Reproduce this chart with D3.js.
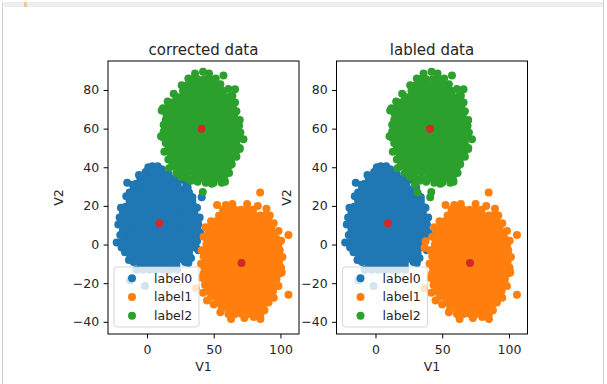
<!DOCTYPE html>
<html>
<head>
<meta charset="utf-8">
<script src="https://cdn.jsdelivr.net/npm/d3@7"></script>
<style>
  body { margin: 0; background: #fff; }
  svg { display: block; }
  text { font-family: "DejaVu Sans", sans-serif; fill: #262626; }
</style>
</head>
<body>
<svg id="chart"></svg>
<script>
// chart values
const titles = ['corrected data', 'labled data'];
const legendLabels = ['label0', 'label1', 'label2'];
const colors = ['#1f77b4', '#ff7f0e', '#2ca02c'];
const centerColor = '#d62728';
const xTicks = [0, 50, 100];
const yTicks = [-40, -20, 0, 20, 40, 60, 80];

// dense blobs, one row per V2 value: [V2, [V1, ...]]
const label0Rows = [
  [40.5, [4, 8]],
  [37.5, [-1, 3, 7.5, 11]],
  [34.5, [-5, -0.5, 4, 8.5, 13, 16]],
  [31.5, [-8, -3.5, 1, 5.5, 10, 14.5, 19, 23]],
  [28.5, [-10, -5.5, -1, 3.5, 8, 12.5, 17, 21.5, 26, 29]],
  [25.5, [-12, -7.5, -3, 1.5, 6, 10.5, 15, 19.5, 24, 28.5, 32]],
  [22.5, [-13, -9.5, -5, -0.5, 4, 8.5, 13, 17.5, 22, 26.5, 31, 34]],
  [19.5, [-16, -11.5, -7, -2.5, 2, 6.5, 11, 15.5, 20, 24.5, 29, 33, 35.5]],
  [16.5, [-18, -13.5, -9, -4.5, 0, 4.5, 9, 13.5, 18, 22.5, 27, 31.5, 35.5]],
  [13.5, [-18, -15.5, -11, -6.5, -2, 2.5, 7, 11.5, 16, 20.5, 25, 29.5, 34, 37]],
  [10.5, [-18.5, -13.5, -9, -4.5, 0, 4.5, 9, 13.5, 18, 22.5, 27, 31.5, 35.5, 38.5]],
  [7.5, [-18, -15.5, -11, -6.5, -2, 2.5, 7, 11.5, 16, 20.5, 25, 29.5, 34, 38]],
  [4.5, [-17, -13.5, -9, -4.5, 0, 4.5, 9, 13.5, 18, 22.5, 27, 31.5, 35.5, 38]],
  [1.5, [-16, -11.5, -7, -2.5, 2, 6.5, 11, 15.5, 20, 24.5, 29, 33.5, 36]],
  [-1.5, [-15, -10.5, -6, -1.5, 3, 7.5, 12, 16.5, 21, 25.5, 30, 34]],
  [-4.5, [-13.5, -9, -4.5, 0, 4.5, 9, 13.5, 18, 22.5, 27, 31.5]],
  [-7.5, [-10, -5.5, -1, 3.5, 8, 12.5, 17, 21.5, 26, 29]],
  [-10.5, [-5, 0, 4.5, 9, 13.5, 18, 22]],
  [-13, [-8, -3, 2, 7, 12, 17, 22.5]]
];
const label0Extra = [
  [-22.7, 1], [-19, 1], [-21.5, 10.4], [-14.8, 32], [27, 33.5],
  [-12.7, -18.5], [-1.5, -21.4], [28.5, -9],
  [-13, 27], [-10.5, 31], [-6, 36], [1, 40], [11, 39], [16, 36.5], [21, 34.5],
  [30.5, 29.5], [34, 24.5], [37.5, 19], [39.5, 14], [40, 6], [38.5, -3], [33, -7],
  [31, -9.5], [-16.5, -4], [-19, -1.5], [-20, 5], [-20.5, 14], [-19.5, 19],
  [-15.5, 25], [-10, -9], [-13.5, -8]
];

const label1Rows = [
  [18, [57, 61.5, 66, 70.5, 75, 79.5]],
  [15, [54, 58, 62.5, 67, 71.5, 76, 80.5, 85, 88.5]],
  [12, [52, 56, 60.5, 65, 69.5, 74, 78.5, 83, 87.5, 91]],
  [9, [49, 53, 57.5, 62, 66.5, 71, 75.5, 80, 84.5, 89, 93]],
  [6, [46, 50.5, 55, 59.5, 64, 68.5, 73, 77.5, 82, 86.5, 91, 95]],
  [3, [45, 48.5, 53, 57.5, 62, 66.5, 71, 75.5, 80, 84.5, 89, 93.5, 97]],
  [0, [44.5, 49, 53.5, 58, 62.5, 67, 71.5, 76, 80.5, 85, 89.5, 94, 98.5]],
  [-3, [43, 46.5, 51, 55.5, 60, 64.5, 69, 73.5, 78, 82.5, 87, 91.5, 96, 99.5]],
  [-6, [42.5, 47, 51.5, 56, 60.5, 65, 69.5, 74, 78.5, 83, 87.5, 92, 96.5, 99.5]],
  [-9, [43, 45.5, 50, 54.5, 59, 63.5, 68, 72.5, 77, 81.5, 86, 90.5, 95, 99]],
  [-12, [43, 47.5, 52, 56.5, 61, 65.5, 70, 74.5, 79, 83.5, 88, 92.5, 97, 100.5]],
  [-15, [42.5, 46, 50.5, 55, 59.5, 64, 68.5, 73, 77.5, 82, 86.5, 91, 95.5, 99.5]],
  [-18, [43, 47.5, 52, 56.5, 61, 65.5, 70, 74.5, 79, 83.5, 88, 92.5, 97]],
  [-21, [43.5, 47, 51.5, 56, 60.5, 65, 69.5, 74, 78.5, 83, 87.5, 92, 96]],
  [-24, [46, 50.5, 55, 59.5, 64, 68.5, 73, 77.5, 82, 86.5, 91, 94.5]],
  [-27, [48, 52.5, 57, 61.5, 66, 70.5, 75, 79.5, 84, 88.5, 92]],
  [-30, [53, 57.5, 62, 66.5, 71, 75.5, 80, 84.5, 89]],
  [-33, [56, 60.5, 65, 69.5, 74, 78.5, 83, 87]],
  [-36, [61, 66, 71, 75.5, 80, 85]]
];
const label1Extra = [
  [84.8, 27], [106, 5], [106, -26], [52.5, 20.5], [36.5, -22.6], [85, -38.5],
  [48, 12], [44, 9], [42.5, 4], [41, -3], [40.5, -10], [41, -17], [42, -25],
  [45, -29], [50, -31], [55, -35], [63, -38.5], [73, -38], [80, -37.5], [88, -34],
  [91, -30], [95, -27.5], [98.5, -21.5], [101, -14.5], [101.5, -6.5], [100.5, 2],
  [98.5, 7], [95, 11], [92, 15], [89.5, 18.5], [83, 20], [75, 21], [64, 21], [59, 20.5]
];

const label2Rows = [
  [88.5, [36, 46.5]],
  [85.5, [34, 38, 43, 47]],
  [82.5, [30, 34.5, 39, 43.5, 48, 51]],
  [79.5, [27, 31, 35.5, 40, 44.5, 49, 53, 57]],
  [76.5, [22, 26.5, 31, 35.5, 40, 44.5, 49, 53.5, 58, 62]],
  [73.5, [19, 23.5, 28, 32.5, 37, 41.5, 46, 50.5, 55, 59.5, 63]],
  [70.5, [12, 16, 20.5, 25, 29.5, 34, 38.5, 43, 47.5, 52, 56.5, 61, 64.5]],
  [67.5, [14.5, 18, 22.5, 27, 31.5, 36, 40.5, 45, 49.5, 54, 58.5, 63, 65.5]],
  [64.5, [14, 17.5, 22, 26.5, 31, 35.5, 40, 44.5, 49, 53.5, 58, 62.5, 66]],
  [61.5, [13.5, 16, 20.5, 25, 29.5, 34, 38.5, 43, 47.5, 52, 56.5, 61, 65.5, 69]],
  [58.5, [12.5, 17, 21.5, 26, 30.5, 35, 39.5, 44, 48.5, 53, 57.5, 62, 66]],
  [55.5, [12, 15.5, 20, 24.5, 29, 33.5, 38, 42.5, 47, 51.5, 56, 60.5, 65, 68]],
  [52.5, [14, 18, 22.5, 27, 31.5, 36, 40.5, 45, 49.5, 54, 58.5, 63, 67]],
  [49.5, [16, 20.5, 25, 29.5, 34, 38.5, 43, 47.5, 52, 56.5, 61, 65, 69.5]],
  [46.5, [18, 22.5, 27, 31.5, 36, 40.5, 45, 49.5, 54, 58.5, 63, 66.5]],
  [43.5, [18.5, 23, 27.5, 32, 36.5, 41, 45.5, 50, 54.5, 59, 63]],
  [40.5, [18.5, 22, 26.5, 31, 35.5, 40, 44.5, 49, 53.5, 58, 61.5]],
  [37.5, [26, 30, 34.5, 39, 43.5, 48, 52.5, 57, 60]],
  [34.5, [30, 35, 40, 45, 49.5, 54, 58]],
  [32, [44, 50, 56]]
];
const label2Extra = [
  [57.3, 87.5], [66, 80.4], [72.3, 54.5], [11, 69.4], [41.8, 27.2],
  [15.5, 74], [12.5, 62], [10.5, 56], [13, 48], [16, 44], [16.5, 39.5], [22, 37],
  [26, 35], [33, 33], [38, 32.5], [48.5, 31.5], [58.5, 32.5], [61.5, 37], [63.5, 41.5],
  [67, 45.5], [69.5, 50], [70, 58], [69.5, 64.5], [67, 69], [66, 73.5], [64, 77],
  [61, 80.5], [55, 83], [51.5, 86], [42, 89.5], [31, 86], [26, 82.5], [20, 78]
];

// points on the cluster borders whose label differs between the two panels
const borderPoints = [[31.5, 27], [29.5, 31], [41, 24.5], [37.5, 1.7], [36.8, -1.7]];
const borderCorrected = [0, 0, 0, 0, 0];
const borderLabeled = [2, 2, 2, 1, 1];

const centers = [[9.3, 11], [70.8, -9.5], [40.9, 59.9]];

// layout
const width = 607, height = 384;
const axTop = 61, axBottom = 334, axWidth = 191;
const panelLefts = [108, 336.5];
const fontSize = 12.5, markerR = 4;

const svg = d3.select('#chart').attr('width', width).attr('height', height);

// notebook cell frame
svg.append('rect').attr('x', 4).attr('y', 2).attr('width', 599).attr('height', 5).attr('fill', '#eeeeee');
svg.append('rect').attr('x', 24).attr('y', 2).attr('width', 3).attr('height', 5).attr('fill', '#f3c597');
svg.append('line').attr('x1', 2.5).attr('x2', 2.5).attr('y1', 2).attr('y2', height).attr('stroke', '#cfcfcf');
svg.append('line').attr('x1', 603.5).attr('x2', 603.5).attr('y1', 0).attr('y2', height).attr('stroke', '#cfcfcf');

const expand = rows => rows.flatMap(([y, xs]) => xs.map(x => [x, y]));
const basePoints = [
  expand(label0Rows).concat(label0Extra),
  expand(label1Rows).concat(label1Extra),
  expand(label2Rows).concat(label2Extra)
];
const fmt = d => (d < 0 ? '\u2212' + Math.abs(d) : String(d));

panelLefts.forEach((left, p) => {
  const x = d3.scaleLinear().domain([-29.2, 113.9]).range([left, left + axWidth]);
  const y = d3.scaleLinear().domain([-46.3, 95.0]).range([axBottom, axTop]);
  const borderLabels = p === 0 ? borderCorrected : borderLabeled;

  const g = svg.append('g');
  const clipId = 'clip' + p;
  g.append('clipPath').attr('id', clipId).append('rect')
    .attr('x', left).attr('y', axTop).attr('width', axWidth).attr('height', axBottom - axTop);

  const plot = g.append('g').attr('clip-path', `url(#${clipId})`);

  // one scatter per label, in label order
  colors.forEach((c, k) => {
    const pts = basePoints[k].concat(borderPoints.filter((_, i) => borderLabels[i] === k));
    plot.append('g').selectAll('circle').data(pts).join('circle')
      .attr('cx', d => x(d[0])).attr('cy', d => y(d[1]))
      .attr('r', markerR).attr('fill', c);
  });

  plot.append('g').selectAll('circle').data(centers).join('circle')
    .attr('cx', d => x(d[0])).attr('cy', d => y(d[1]))
    .attr('r', markerR).attr('fill', centerColor);

  // axes
  const xAxis = g.append('g').attr('transform', `translate(0,${axBottom})`)
    .call(d3.axisBottom(x).tickValues(xTicks).tickSize(4.4).tickPadding(4.4).tickFormat(fmt));
  const yAxis = g.append('g').attr('transform', `translate(${left},0)`)
    .call(d3.axisLeft(y).tickValues(yTicks).tickSize(4.4).tickPadding(4.4).tickFormat(fmt));
  [xAxis, yAxis].forEach(a => {
    a.attr('font-size', null).attr('font-family', null);
    a.select('.domain').remove();
    a.selectAll('line').attr('stroke', '#000').attr('stroke-width', 1);
    a.selectAll('text').attr('font-size', fontSize).attr('fill', '#262626');
  });
  xAxis.selectAll('text').attr('dy', '0.86em');

  g.append('rect').attr('x', left).attr('y', axTop).attr('width', axWidth).attr('height', axBottom - axTop)
    .attr('fill', 'none').attr('stroke', '#000').attr('stroke-width', 1);

  g.append('text').attr('x', left + axWidth / 2).attr('y', 54.5).attr('text-anchor', 'middle')
    .attr('font-size', 15).text(titles[p]);
  g.append('text').attr('x', left + axWidth / 2).attr('y', 370.5).attr('text-anchor', 'middle')
    .attr('font-size', fontSize).text('V1');
  g.append('text').attr('transform', `translate(${left - 45.5},${(axTop + axBottom) / 2}) rotate(-90)`)
    .attr('text-anchor', 'middle').attr('font-size', fontSize).text('V2');

  // legend, lower left
  const lg = g.append('g').attr('transform', `translate(${left + 6},267)`);
  lg.append('rect').attr('width', 85).attr('height', 60).attr('rx', 3)
    .attr('fill', '#fff').attr('fill-opacity', 0.8)
    .attr('stroke', '#cccccc').attr('stroke-opacity', 0.8);
  legendLabels.forEach((lab, i) => {
    const ly = 11.3 + i * 18.7;
    lg.append('circle').attr('cx', 18).attr('cy', ly).attr('r', markerR).attr('fill', colors[i]);
    lg.append('text').attr('x', 40).attr('y', ly + 4.3).attr('font-size', fontSize).text(lab);
  });
});
</script>
</body>
</html>
